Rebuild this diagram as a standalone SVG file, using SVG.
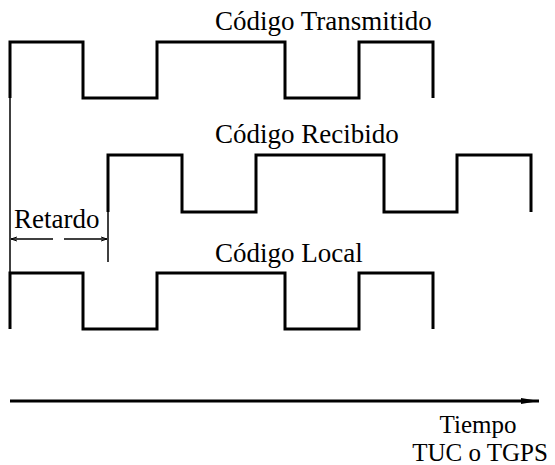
<svg xmlns="http://www.w3.org/2000/svg" width="555" height="465" viewBox="0 0 555 465">
<defs>
<marker id="ah" markerWidth="6" markerHeight="6" refX="6" refY="3" orient="auto" markerUnits="userSpaceOnUse"><path d="M0,1 L6,3 L0,5" fill="none" stroke="#000" stroke-width="1"/></marker>
<marker id="big" markerWidth="18" markerHeight="8" refX="18" refY="4" orient="auto" markerUnits="userSpaceOnUse"><path d="M0,1 L18,4 L0,7 Z" fill="#000"/></marker>
</defs>
<style>
.sig{fill:none;stroke:#000;stroke-width:3;stroke-linejoin:miter}
.thin{fill:none;stroke:#000;stroke-width:1.5}
text{font-family:"Liberation Serif","Times New Roman",serif;font-size:27px;fill:#000}
.ax{font-size:25px}
</style>
<rect width="555" height="465" fill="#fff"/>
<g id="connectors">
<line class="thin" x1="10" y1="42" x2="10" y2="329"/>
<line class="thin" x1="108" y1="212" x2="108" y2="262"/>
<line class="thin" x1="53" y1="239" x2="11" y2="239" marker-end="url(#ah)"/>
<line class="thin" x1="64" y1="239" x2="107" y2="239" marker-end="url(#ah)"/>
<line x1="10" y1="401" x2="539" y2="401" stroke="#000" stroke-width="3" marker-end="url(#big)"/>
</g>
<g id="transmitido">
<polyline class="sig" points="10,98 10,42 83,42 83,98 157,98 157,42 285,42 285,98 359,98 359,42 433,42 433,98"/>
<text x="215" y="30">Código Transmitido</text>
</g>
<g id="recibido">
<polyline class="sig" points="108,212 108,155 182,155 182,212 256,212 256,155 384,155 384,212 457,212 457,155 531,155 531,212"/>
<text x="215" y="143">Código Recibido</text>
</g>
<g id="local">
<polyline class="sig" points="10,329 10,273 83,273 83,329 157,329 157,273 285,273 285,329 359,329 359,273 433,273 433,329"/>
<text x="215" y="262">Código Local</text>
</g>
<g id="retardo">
<text x="14" y="228">Retardo</text>
</g>
<g id="tiempo">
<text class="ax" x="478" y="433" text-anchor="middle">Tiempo</text>
<text class="ax" x="480" y="461" text-anchor="middle">TUC o TGPS</text>
</g>
</svg>
